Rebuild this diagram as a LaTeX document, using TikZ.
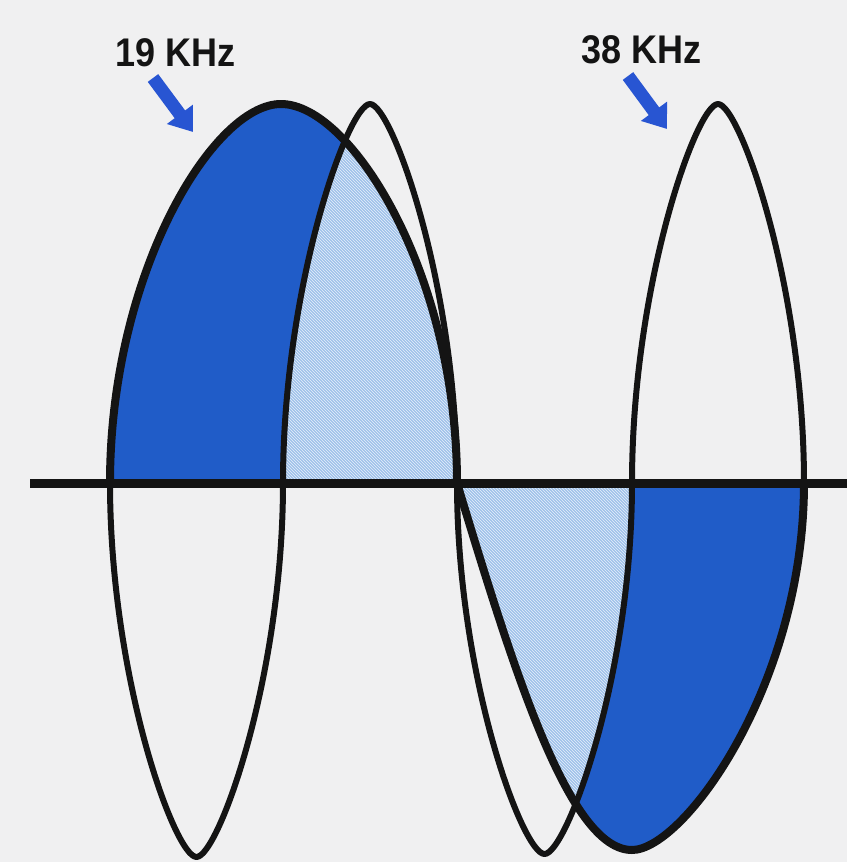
\documentclass[tikz,border=0pt]{standalone}
\usepackage{fontspec}
\usetikzlibrary{patterns,arrows.meta}
\newfontfamily\labfont[FakeStretch=0.9]{Liberation Sans Bold}
\definecolor{bgc}{RGB}{240,240,241}
\definecolor{darkfill}{RGB}{32,92,200}
\definecolor{lightfill}{RGB}{160,194,234}
\definecolor{arrowblue}{RGB}{40,85,210}
\definecolor{ink}{RGB}{20,20,20}
% 19 kHz wave halves
\def\pathUup{(110,483) .. controls (110,274.5) and (212.6,104) .. (281,104) .. controls (351.4,104) and (457,274.5) .. (457,483)}
\def\pathUlow{(457,483) .. controls (514,671) and (569,850) .. (632,850) .. controls (683.6,850) and (804,684.9) .. (804,483)}
% 38 kHz wave halves
\def\pathA{(110,483) .. controls (110,677.5) and (174.9,857) .. (196.5,857) .. controls (218.1,857) and (283,677.5) .. (283,483)}
\def\pathB{(283,483) .. controls (283,286) and (348.25,104) .. (370,104) .. controls (391.75,104) and (457,286) .. (457,483)}
\def\pathC{(457,483) .. controls (457,676) and (522.6,854) .. (544.5,854) .. controls (566.4,854) and (632,676) .. (632,483)}
\def\pathD{(632,483) .. controls (632,286) and (696.5,104) .. (718,104) .. controls (739.5,104) and (804,286) .. (804,483)}
\begin{document}
\begin{tikzpicture}[x=1pt,y=-1pt,
  wave19/.style={draw=ink,line width=8pt,line join=round},
  wave38/.style={draw=ink,line width=6pt,line join=round},
  axisline/.style={draw=ink,line width=9pt},
  solidfill/.style={fill=darkfill},
  hatchfill/.style={fill=lightfill},
  hatchlines/.style={pattern=north west lines,pattern color=white!75!lightfill},
  bolt/.style={draw=arrowblue,line width=13pt,-{Triangle[length=22pt,width=31pt]}},
  freqlabel/.style={anchor=base west,inner sep=0pt,text=ink,font=\labfont\fontsize{40}{40}\selectfont}
]
\fill[bgc] (0,0) rectangle (847,862);
\useasboundingbox (0,0) rectangle (847,862);

% fills
\fill[solidfill] \pathUup -- cycle;
\begin{scope}
  \clip \pathUup -- cycle;
  \fill[hatchfill] \pathB -- cycle;
  \fill[hatchlines] \pathB -- cycle;
\end{scope}
\fill[solidfill] \pathUlow -- cycle;
\begin{scope}
  \clip \pathUlow -- cycle;
  \fill[hatchfill] \pathC -- cycle;
  \fill[hatchlines] \pathC -- cycle;
\end{scope}

% waves
\draw[wave38] \pathA;
\draw[wave38] \pathB;
\draw[wave38] \pathC;
\draw[wave38] \pathD;
\draw[wave19] \pathUup;
\draw[wave19] \pathUlow;

% axis
\coordinate (axL) at (30,483);
\coordinate (axR) at (847,483);
\draw[axisline] (axL) -- (axR);

% labels and arrows
\node[freqlabel] (l19) at (115,66) {19 KHz};
\node[freqlabel] (l38) at (581,63) {38 KHz};
\coordinate (a19s) at (153,78);
\coordinate (a19e) at (193,132);
\coordinate (a38s) at (628,76);
\coordinate (a38e) at (667,129);
\draw[bolt] (a19s) -- (a19e);
\draw[bolt] (a38s) -- (a38e);
\end{tikzpicture}
\end{document}
